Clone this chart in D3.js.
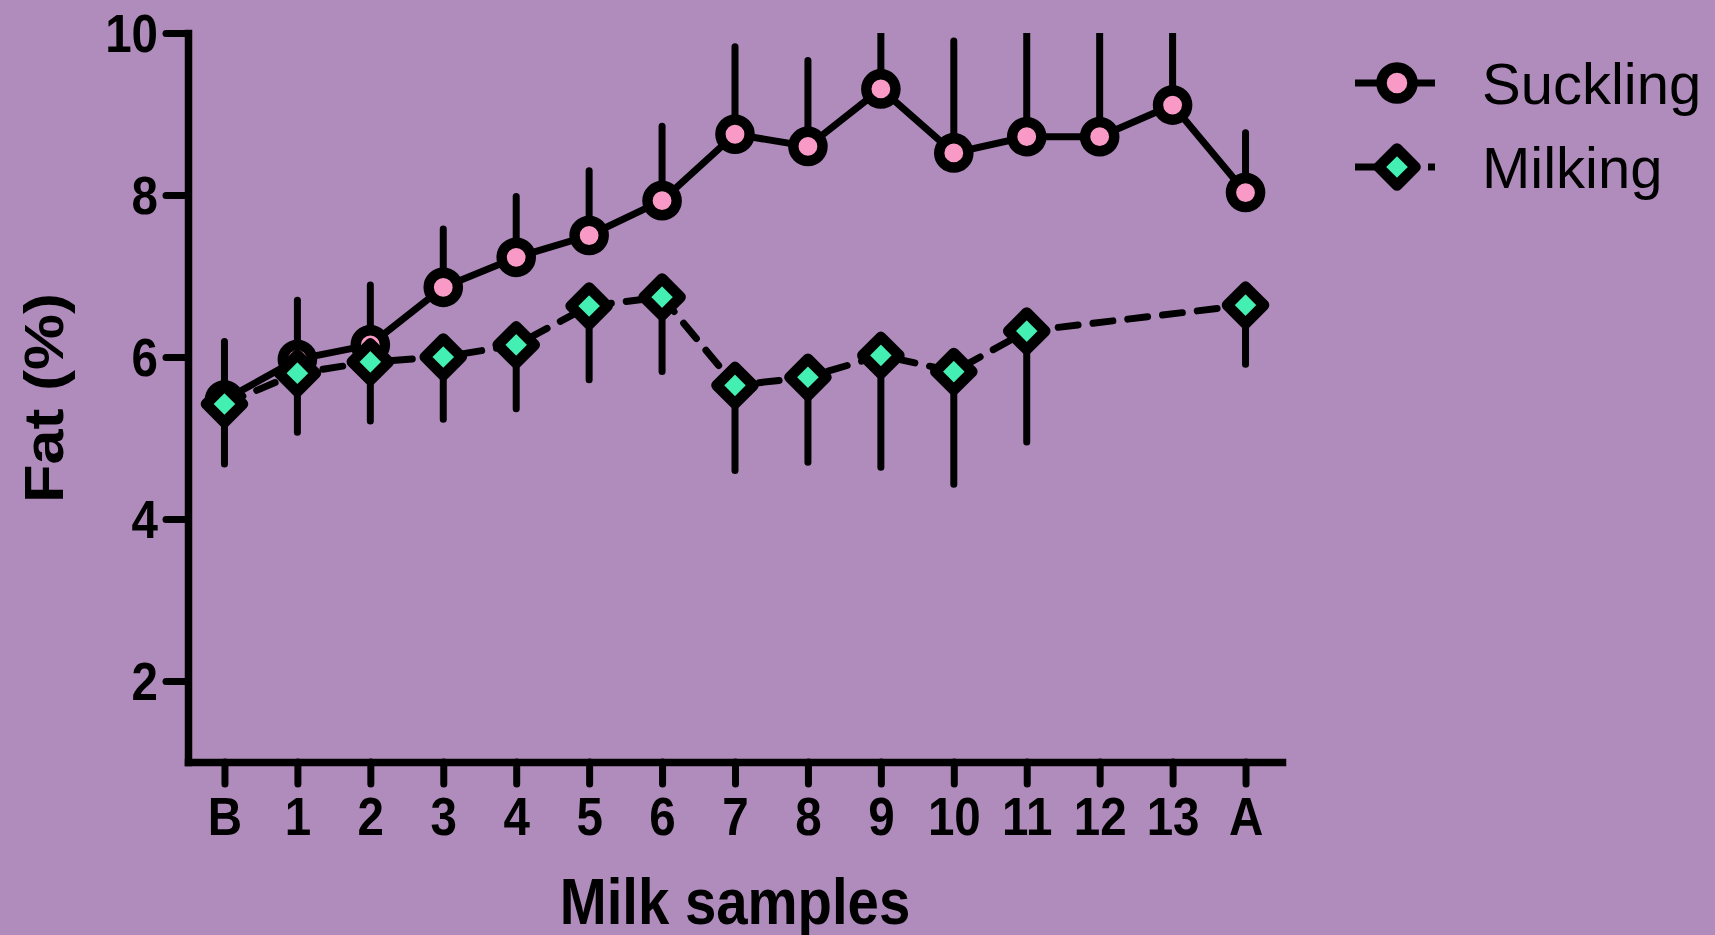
<!DOCTYPE html>
<html>
<head>
<meta charset="utf-8">
<script src="https://cdn.jsdelivr.net/npm/d3@7"></script>
<style>
  html, body { margin: 0; padding: 0; background: #b08cbc; }
  svg { display: block; }
  text { font-family: "Liberation Sans", Arial, Helvetica, sans-serif; fill: #000; }
</style>
</head>
<body>
<div id="chart"></div>
<script>
// milk sample categories (B = before, A = after)
var categories = ["B", "1", "2", "3", "4", "5", "6", "7", "8", "9", "10", "11", "12", "13", "A"];

// Suckling: mean fat % and upper error
var sucklingMean = [5.47, 5.97, 6.15, 6.86, 7.23, 7.50, 7.93, 8.75, 8.60, 9.31, 8.52, 8.72, 8.72, 9.11, 8.03];
var sucklingErr  = [0.72, 0.73, 0.74, 0.72, 0.75, 0.80, 0.92, 1.08, 1.06, 1.10, 1.38, 1.45, 1.50, 1.20, 0.74];

// Milking: mean fat % and lower error (no samples 12, 13)
var milkingMean = [5.42, 5.80, 5.94, 6.00, 6.15, 6.63, 6.74, 5.65, 5.75, 6.02, 5.82, 6.32, null, null, 6.64];
var milkingErr  = [0.74, 0.73, 0.73, 0.77, 0.79, 0.91, 0.92, 1.05, 1.05, 1.38, 1.39, 1.37, null, null, 0.73];

var yTicks = [2, 4, 6, 8, 10];
var seriesNames = ["Suckling", "Milking"];

var W = 1715, H = 935;
var squeeze = 0.88;   // axis fonts are condensed

var svg = d3.select("#chart").append("svg")
    .attr("width", W)
    .attr("height", H);

svg.append("rect").attr("width", W).attr("height", H).attr("fill", "#b08cbc");

var x = d3.scaleLinear().domain([-0.5, 14.5]).range([188, 1282]);
var y = d3.scaleLinear().domain([1, 10]).range([762, 33]);

svg.append("clipPath").attr("id", "plotclip")
  .append("rect")
    .attr("x", 0).attr("y", y(10))
    .attr("width", W).attr("height", H);

// Y axis
var yAxis = svg.append("g")
    .attr("transform", "translate(" + x(-0.5) + ",0)")
    .call(d3.axisLeft(y).tickValues(yTicks).tickSize(22).tickSizeOuter(0));

// X axis
var xAxis = svg.append("g")
    .attr("transform", "translate(0," + y(1) + ")")
    .call(d3.axisBottom(x).tickValues(d3.range(categories.length)).tickSize(22).tickSizeOuter(0)
      .tickFormat(function(i) { return categories[i]; }));

[yAxis, xAxis].forEach(function(g) {
  g.select(".domain").attr("stroke", "#000").attr("stroke-width", 7.5).attr("stroke-linecap", "square");
  g.selectAll(".tick line").attr("stroke", "#000").attr("stroke-width", 7).attr("stroke-linecap", "round");
  g.selectAll(".tick text")
    .attr("font-family", null).attr("fill", "#000")
    .style("font-size", "54px").style("font-weight", "bold");
});

yAxis.selectAll(".tick text")
    .attr("x", 0).attr("dy", "0.35em")
    .attr("transform", "translate(-30,0) scale(" + squeeze + ",1)");

xAxis.selectAll(".tick text")
    .attr("y", 0).attr("dy", 0)
    .attr("transform", "translate(0,73) scale(" + squeeze + ",1)");

// axis titles
svg.append("text")
    .attr("transform", "translate(735,924) scale(" + squeeze + ",1)")
    .attr("text-anchor", "middle")
    .style("font-size", "64px").style("font-weight", "bold")
    .text("Milk samples");

svg.append("text")
    .attr("transform", "translate(63,398) scale(" + squeeze + ",1) rotate(-90)")
    .attr("text-anchor", "middle")
    .style("font-size", "63px").style("font-weight", "bold")
    .text("Fat (%)");

var plot = svg.append("g").attr("clip-path", "url(#plotclip)");

function diamond(d) {
  var r = 18.4;
  return "M0," + (-r) + "L" + r + ",0L0," + r + "L" + (-r) + ",0Z";
}

// ---- Suckling ----
var suck = categories.map(function(c, i) { return {i: i, v: sucklingMean[i], e: sucklingErr[i]}; });

plot.selectAll(".sbar").data(suck).enter().append("line")
    .attr("class", "sbar")
    .attr("x1", function(d) { return x(d.i); })
    .attr("x2", function(d) { return x(d.i); })
    .attr("y1", function(d) { return y(d.v); })
    .attr("y2", function(d) { return y(d.v + d.e); })
    .attr("stroke", "#000").attr("stroke-width", 7).attr("stroke-linecap", "round");

var lineS = d3.line().x(function(d) { return x(d.i); }).y(function(d) { return y(d.v); });

plot.append("path").datum(suck)
    .attr("d", lineS)
    .attr("fill", "none").attr("stroke", "#000").attr("stroke-width", 7);

plot.selectAll(".smark").data(suck).enter().append("circle")
    .attr("class", "smark")
    .attr("cx", function(d) { return x(d.i); })
    .attr("cy", function(d) { return y(d.v); })
    .attr("r", 14.6)
    .attr("fill", "#f99ac6").attr("stroke", "#000").attr("stroke-width", 10.4);

// ---- Milking ----
var milk = categories.map(function(c, i) { return {i: i, v: milkingMean[i], e: milkingErr[i]}; })
    .filter(function(d) { return d.v != null; });

plot.selectAll(".mbar").data(milk).enter().append("line")
    .attr("class", "mbar")
    .attr("x1", function(d) { return x(d.i); })
    .attr("x2", function(d) { return x(d.i); })
    .attr("y1", function(d) { return y(d.v); })
    .attr("y2", function(d) { return y(d.v - d.e); })
    .attr("stroke", "#000").attr("stroke-width", 7).attr("stroke-linecap", "round");

plot.append("path").datum(milk)
    .attr("d", lineS)
    .attr("fill", "none").attr("stroke", "#000").attr("stroke-width", 7)
    .attr("stroke-dasharray", "20,15").attr("stroke-linecap", "round");

plot.selectAll(".mmark").data(milk).enter().append("path")
    .attr("class", "mmark")
    .attr("transform", function(d) { return "translate(" + x(d.i) + "," + y(d.v) + ")"; })
    .attr("d", diamond)
    .attr("fill", "#43efb2").attr("stroke", "#000").attr("stroke-width", 10.8)
    .attr("stroke-linejoin", "round");

// ---- Legend ----
var legend = svg.append("g");
var rowY = [83, 167];

legend.append("line")
    .attr("x1", 1355).attr("x2", 1435).attr("y1", rowY[0]).attr("y2", rowY[0])
    .attr("stroke", "#000").attr("stroke-width", 7);
legend.append("circle")
    .attr("cx", 1397).attr("cy", rowY[0]).attr("r", 15.5)
    .attr("fill", "#f99ac6").attr("stroke", "#000").attr("stroke-width", 10.5);

legend.append("line")
    .attr("x1", 1355).attr("x2", 1435).attr("y1", rowY[1]).attr("y2", rowY[1])
    .attr("stroke", "#000").attr("stroke-width", 7)
    .attr("stroke-dasharray", "20,16.5");
legend.append("path")
    .attr("transform", "translate(1397," + rowY[1] + ")")
    .attr("d", diamond)
    .attr("fill", "#43efb2").attr("stroke", "#000").attr("stroke-width", 10.8)
    .attr("stroke-linejoin", "round");

legend.selectAll(".ltext").data(seriesNames).enter().append("text")
    .attr("class", "ltext")
    .attr("x", 1482)
    .attr("y", function(d, i) { return rowY[i] + 21; })
    .style("font-size", "58px")
    .text(function(d) { return d; });
</script>
</body>
</html>
